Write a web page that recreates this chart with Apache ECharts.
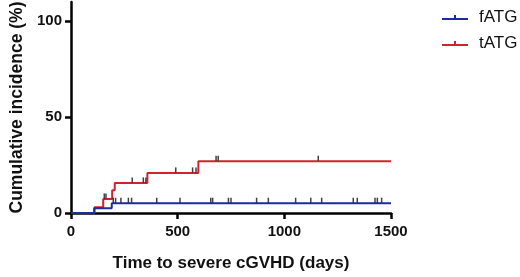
<!DOCTYPE html>
<html>
<head>
<meta charset="utf-8">
<script src="https://cdn.jsdelivr.net/npm/echarts@6/dist/echarts.min.js"></script>
<style>
  html, body { margin: 0; padding: 0; background: #fff; }
  #chart { width: 520px; height: 277px; }
</style>
</head>
<body>
<div id="chart"></div>
<script>
// step points [day, cumulative incidence %]
var fatgSteps = [[0, 0], [109, 2.5], [191, 5.1], [1500, 5.1]];
var tatgSteps = [[0, 0], [110, 3], [151, 7.3], [193, 11.9], [205, 15.7], [358, 20.9], [597, 27], [1500, 27]];

// censored observations [day, level]
var fatgCensor = [[198, 5.1], [209, 5.1], [234, 5.1], [269, 5.1], [284, 5.1], [402, 5.1], [511, 5.1],
  [655, 5.1], [664, 5.1], [738, 5.1], [750, 5.1], [870, 5.1], [925, 5.1], [1053, 5.1], [1124, 5.1],
  [1175, 5.1], [1323, 5.1], [1342, 5.1], [1425, 5.1], [1436, 5.1], [1456, 5.1]];
var tatgCensor = [[156, 7.3], [164, 7.3], [287, 15.7], [339, 15.7], [351, 15.7], [491, 20.9],
  [570, 20.9], [586, 20.9], [680, 27], [690, 27], [1159, 27]];

var xTicks = [0, 500, 1000, 1500];
var yTicks = [0, 50, 100];

var blue = '#1c2b9e';
var red = '#d3222d';
// line with a small censor tick, like the prism legend
var legendIcon = 'path://M0,5 L26,5 L26,7 L0,7 Z M12,2 L14,2 L14,5 L12,5 Z';

var myChart = echarts.init(document.getElementById('chart'));
myChart.setOption({
    animation: false,
    textStyle: { fontFamily: 'Liberation Sans, Arial, sans-serif' },
    grid: { left: 71, right: 129, top: 2, bottom: 64, outerBoundsMode: 'none' },
    legend: {
        orient: 'vertical',
        left: 437,
        top: 4,
        itemWidth: 26,
        itemHeight: 7,
        itemGap: 9,
        textStyle: { fontSize: 17, color: '#111', padding: [0, 0, 0, 6] },
        data: [
            { name: 'fATG', icon: legendIcon },
            { name: 'tATG', icon: legendIcon }
        ]
    },
    xAxis: {
        type: 'value',
        min: 0,
        max: 1500,
        interval: 500,
        name: 'Time to severe cGVHD (days)',
        nameLocation: 'middle',
        nameGap: 42,
        nameTextStyle: { fontSize: 17, fontWeight: 'bold', color: '#111' },
        axisLine: { lineStyle: { color: '#000', width: 2.5 } },
        axisTick: { length: 6, lineStyle: { color: '#000', width: 2.5 } },
        axisLabel: {
            margin: 11, fontSize: 15, fontWeight: 'bold', color: '#111',
            formatter: function (v) { return String(v); }
        },
        splitLine: { show: false }
    },
    yAxis: {
        type: 'value',
        min: 0,
        max: 110,
        name: 'Cumulative incidence (%)',
        nameLocation: 'middle',
        nameGap: 35,
        nameTextStyle: { fontSize: 17.5, fontWeight: 'bold', color: '#111' },
        axisLine: { show: true, lineStyle: { color: '#000', width: 2.5 } },
        axisTick: { show: true, length: 6, customValues: yTicks, lineStyle: { color: '#000', width: 2.5 } },
        axisLabel: { margin: 9, fontSize: 15, fontWeight: 'bold', color: '#111', customValues: yTicks },
        splitLine: { show: false }
    },
    series: [
        {
            name: 'fATG',
            type: 'line',
            step: 'end',
            data: fatgSteps,
            showSymbol: false,
            color: blue,
            lineStyle: { width: 2, color: blue },
            z: 3
        },
        {
            name: 'tATG',
            type: 'line',
            step: 'end',
            data: tatgSteps,
            showSymbol: false,
            color: red,
            lineStyle: { width: 2, color: red },
            z: 2
        },
        {
            name: 'fATG censor',
            type: 'scatter',
            data: fatgCensor,
            symbol: 'rect',
            symbolSize: [1.5, 5],
            symbolOffset: [0, -3],
            itemStyle: { color: '#111' },
            z: 4
        },
        {
            name: 'tATG censor',
            type: 'scatter',
            data: tatgCensor,
            symbol: 'rect',
            symbolSize: [1.5, 5],
            symbolOffset: [0, -3],
            itemStyle: { color: '#111' },
            z: 4
        }
    ]
});
</script>
</body>
</html>
